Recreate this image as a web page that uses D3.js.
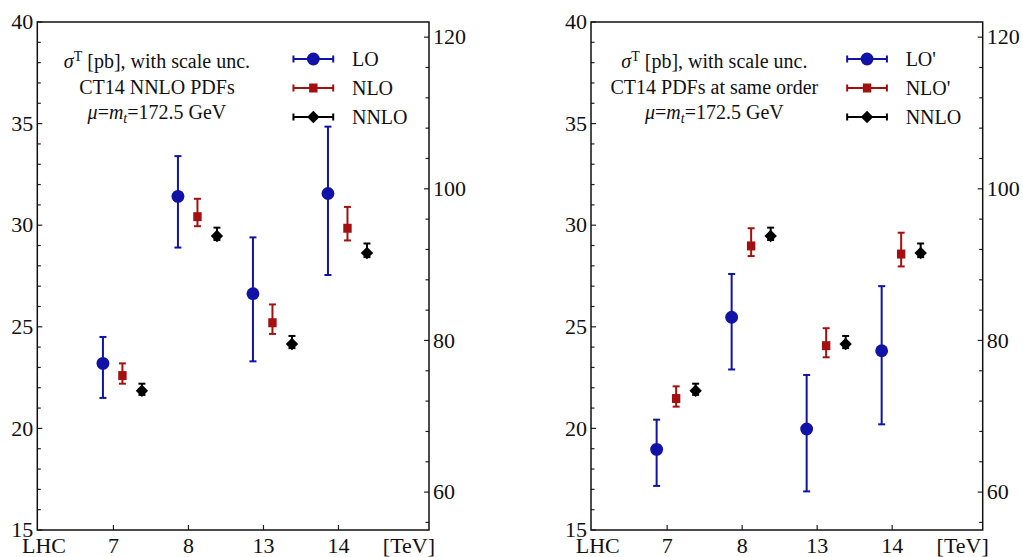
<!DOCTYPE html>
<html>
<head>
<meta charset="utf-8">
<script src="https://cdn.jsdelivr.net/npm/d3@7"></script>
</head>
<body style="margin:0">
<svg id="plot" width="1023" height="557"></svg>
<script>
// Collider energies (TeV) along the x axis
const energies = ["7", "8", "13", "14"];

// Left panel: CT14 NNLO PDFs for every order
const loA = [23.2, 31.42, 26.63, 31.56];
const loA_lo = [21.5, 28.9, 23.3, 27.55];
const loA_hi = [24.5, 33.4, 29.4, 34.85];
const nloA = [22.6, 30.42, 25.2, 29.85];
const nloA_lo = [22.2, 29.95, 24.65, 29.25];
const nloA_hi = [23.2, 31.3, 26.1, 30.9];

// NNLO (identical in both panels)
const nnlo = [21.85, 29.47, 24.15, 28.63];
const nnlo_lo = [21.65, 29.27, 23.95, 28.43];
const nnlo_hi = [22.2, 29.88, 24.55, 29.1];

// Right panel: CT14 PDFs at the same order
const loB = [18.97, 25.47, 19.97, 23.82];
const loB_lo = [17.17, 22.9, 16.9, 20.2];
const loB_hi = [20.43, 27.6, 22.63, 27.0];
const nloB = [21.47, 28.98, 24.07, 28.58];
const nloB_lo = [21.07, 28.48, 23.5, 27.97];
const nloB_hi = [22.07, 29.85, 24.93, 29.63];

// Axis ticks
const leftTicks = [15, 20, 25, 30, 35, 40];
const rightTicks = [60, 80, 100, 120];

const BLUE = "#1012a8", RED = "#a3100f", BLACK = "#000";
const FONT = "'Liberation Serif'";

const svg = d3.select("#plot");

function label(sel) {
  return sel.attr("font-family", FONT).style("font-family", FONT, "important").attr("fill", "#111");
}

function panel(x0, series, labels, noteLines) {
  const g = svg.append("g");
  const x = d3.scaleLinear().domain([-0.015, 5.207]).range([x0, x0 + 391.7]);
  const y = d3.scaleLinear().domain([15, 40]).range([530, 22]);
  const y2 = d3.scaleLinear().domain([55, 122]).range([530, 22]);
  const xl = x.range()[0], xr = x.range()[1];

  // minor/major ticks on left axis (inward)
  g.append("g").selectAll("line").data(d3.range(15, 41, 1)).join("line")
    .attr("x1", xl).attr("x2", d => xl + (d % 5 === 0 ? 5 : 3.5))
    .attr("y1", d => y(d)).attr("y2", d => y(d))
    .attr("stroke", "#222").attr("stroke-width", 1.2);
  label(g.append("g").selectAll("text").data(leftTicks).join("text"))
    .attr("x", xl - 4).attr("y", d => y(d)).attr("dy", "0.33em")
    .attr("text-anchor", "end").attr("font-size", 22).text(d => d);

  // right axis ticks every 4 units (inward)
  g.append("g").selectAll("line").data(d3.range(56, 121, 4)).join("line")
    .attr("x1", xr).attr("x2", d => xr - (d % 20 === 0 ? 5 : 3.5))
    .attr("y1", d => y2(d)).attr("y2", d => y2(d))
    .attr("stroke", "#222").attr("stroke-width", 1.2);
  label(g.append("g").selectAll("text").data(rightTicks).join("text"))
    .attr("x", xr + 4).attr("y", d => y2(d)).attr("dy", "0.33em")
    .attr("text-anchor", "start").attr("font-size", 22).text(d => d);

  // x ticks (inward) and labels
  g.append("g").selectAll("line").data(energies).join("line")
    .attr("x1", (d, i) => x(i + 1)).attr("x2", (d, i) => x(i + 1))
    .attr("y1", 530).attr("y2", 525)
    .attr("stroke", "#222").attr("stroke-width", 1.2);
  label(g.append("g").selectAll("text").data(energies).join("text"))
    .attr("x", (d, i) => x(i + 1)).attr("y", 553)
    .attr("text-anchor", "middle").attr("font-size", 22).text(d => d);
  label(g.append("text")).attr("x", x(0.075)).attr("y", 553).attr("text-anchor", "middle")
    .attr("font-size", 22).text("LHC");
  label(g.append("text")).attr("x", x(4.94)).attr("y", 553).attr("text-anchor", "middle")
    .attr("font-size", 22).text("[TeV]");

  // frame
  g.append("rect").attr("x", xl).attr("y", 22).attr("width", xr - xl).attr("height", 508)
    .attr("fill", "none").attr("stroke", "#111").attr("stroke-width", 1.5);

  // annotation block
  const cx = x(noteLines.center);
  const t1 = label(g.append("text")).attr("x", cx).attr("y", 68).attr("text-anchor", "middle").attr("font-size", 20);
  t1.append("tspan").attr("font-style", "italic").text("σ");
  t1.append("tspan").attr("dy", -7).attr("font-size", 14).text("T");
  t1.append("tspan").attr("dy", 7).text(" [pb], with scale unc.");
  label(g.append("text")).attr("x", cx).attr("y", 94).attr("text-anchor", "middle").attr("font-size", 20)
    .text(noteLines.pdf);
  const t3 = label(g.append("text")).attr("x", cx).attr("y", 119).attr("text-anchor", "middle").attr("font-size", 20);
  t3.append("tspan").attr("font-style", "italic").text("μ");
  t3.append("tspan").text("=");
  t3.append("tspan").attr("font-style", "italic").text("m");
  t3.append("tspan").attr("dy", 4).attr("font-style", "italic").attr("font-size", 14).text("t");
  t3.append("tspan").attr("dy", -4).text("=172.5 GeV");

  // data series
  series.forEach((s, k) => {
    const sg = g.append("g");
    const px = i => x(i + 1 + s.off);
    const idx = d3.range(s.v.length);
    sg.selectAll(".bar").data(idx).join("line")
      .attr("x1", px).attr("x2", px)
      .attr("y1", i => y(s.lo[i])).attr("y2", i => y(s.hi[i]))
      .attr("stroke", s.color).attr("stroke-width", 2);
    [s.lo, s.hi].forEach(arr => {
      sg.selectAll(null).data(idx).join("line")
        .attr("x1", i => px(i) - 3.5).attr("x2", i => px(i) + 3.5)
        .attr("y1", i => y(arr[i])).attr("y2", i => y(arr[i]))
        .attr("stroke", s.color).attr("stroke-width", 2);
    });
    sg.selectAll(".m").data(idx).join("path")
      .attr("transform", i => `translate(${px(i)},${y(s.v[i])})`)
      .attr("d", s.shape).attr("fill", s.color);

    // legend entry
    const ly = 59 + k * 29;
    const lx0 = x(3.4), lx1 = x(3.93), lxm = (lx0 + lx1) / 2;
    const lg = g.append("g");
    lg.append("line").attr("x1", lx0).attr("x2", lx1).attr("y1", ly).attr("y2", ly)
      .attr("stroke", s.color).attr("stroke-width", 2);
    [lx0, lx1].forEach(xx => lg.append("line").attr("x1", xx).attr("x2", xx)
      .attr("y1", ly - 3.5).attr("y2", ly + 3.5).attr("stroke", s.color).attr("stroke-width", 2));
    lg.append("path").attr("transform", `translate(${lxm},${ly})`).attr("d", s.shape).attr("fill", s.color);
    label(lg.append("text")).attr("x", x(4.18)).attr("y", ly + 7).attr("font-size", 20).text(labels[k]);
  });
}

const circle = d3.symbol(d3.symbolCircle, 130)();
const square = "M-4.2,-4.5H4.2V4.5H-4.2Z";
const diamond = "M0,-6.2L6.2,0L0,6.2L-6.2,0Z";

panel(37.3, [
  { v: loA, lo: loA_lo, hi: loA_hi, color: BLUE, shape: circle, off: -0.14 },
  { v: nloA, lo: nloA_lo, hi: nloA_hi, color: RED, shape: square, off: 0.12 },
  { v: nnlo, lo: nnlo_lo, hi: nnlo_hi, color: BLACK, shape: diamond, off: 0.38 }
], ["LO", "NLO", "NNLO"], { center: 1.58, pdf: "CT14 NNLO PDFs" });

panel(591, [
  { v: loB, lo: loB_lo, hi: loB_hi, color: BLUE, shape: circle, off: -0.14 },
  { v: nloB, lo: nloB_lo, hi: nloB_hi, color: RED, shape: square, off: 0.12 },
  { v: nnlo, lo: nnlo_lo, hi: nnlo_hi, color: BLACK, shape: diamond, off: 0.38 }
], ["LO'", "NLO'", "NNLO"], { center: 1.63, pdf: "CT14 PDFs at same order" });
</script>
</body>
</html>
